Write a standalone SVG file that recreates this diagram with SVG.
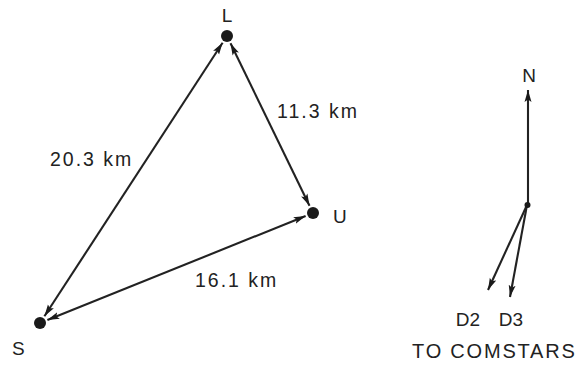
<svg xmlns="http://www.w3.org/2000/svg" width="580" height="365" viewBox="0 0 580 365">
<defs>
<style>
.ln{stroke:#222;stroke-width:2.1;fill:none}
.dot{fill:#1a1a1a}
text{font-family:"Liberation Sans",Arial,sans-serif;fill:#222}
.lbl{font-size:19.5px;letter-spacing:2px}
.nm{font-size:19px}
</style>
<marker id="ah" viewBox="0 0 12 8" refX="12" refY="4" markerWidth="12" markerHeight="8" markerUnits="userSpaceOnUse" orient="auto-start-reverse">
<path d="M0,0.5 L12,4 L0,7.5 L2.5,4 z" fill="#1a1a1a"/>
</marker>
</defs>
<rect width="580" height="365" fill="#fff"/>
<g id="connectors">
<line class="ln" x1="222.6" y1="42.7" x2="44.4" y2="316.3" marker-start="url(#ah)" marker-end="url(#ah)"/>
<line class="ln" x1="230.5" y1="43.2" x2="309.5" y2="205.8" marker-start="url(#ah)" marker-end="url(#ah)"/>
<line class="ln" x1="47.4" y1="320" x2="305.6" y2="216" marker-start="url(#ah)" marker-end="url(#ah)"/>
<line class="ln" x1="528" y1="205" x2="528" y2="90" marker-end="url(#ah)"/>
<line class="ln" x1="527" y1="205" x2="488" y2="290" marker-end="url(#ah)"/>
<line class="ln" x1="527" y1="205" x2="510" y2="297" marker-end="url(#ah)"/>
<text class="lbl" x="50" y="166">20.3 km</text>
<text class="lbl" x="277" y="118">11.3 km</text>
<text class="lbl" x="195" y="287">16.1 km</text>
</g>
<g id="L"><circle class="dot" cx="227" cy="36" r="6"/><text class="nm" x="227" y="22" text-anchor="middle">L</text></g>
<g id="U"><circle class="dot" cx="313" cy="213" r="6"/><text class="nm" x="333" y="223">U</text></g>
<g id="S"><circle class="dot" cx="40" cy="323" r="6"/><text class="nm" x="12" y="355">S</text></g>
<g id="compass">
<circle class="dot" cx="527.5" cy="205" r="3"/>
<text class="nm" x="529" y="82" text-anchor="middle">N</text>
<text class="nm" x="468" y="326" text-anchor="middle">D2</text>
<text class="nm" x="511" y="326" text-anchor="middle">D3</text>
<text class="nm" x="412" y="358" style="font-size:20px;letter-spacing:1.8px">TO COMSTARS</text>
</g>
</svg>
